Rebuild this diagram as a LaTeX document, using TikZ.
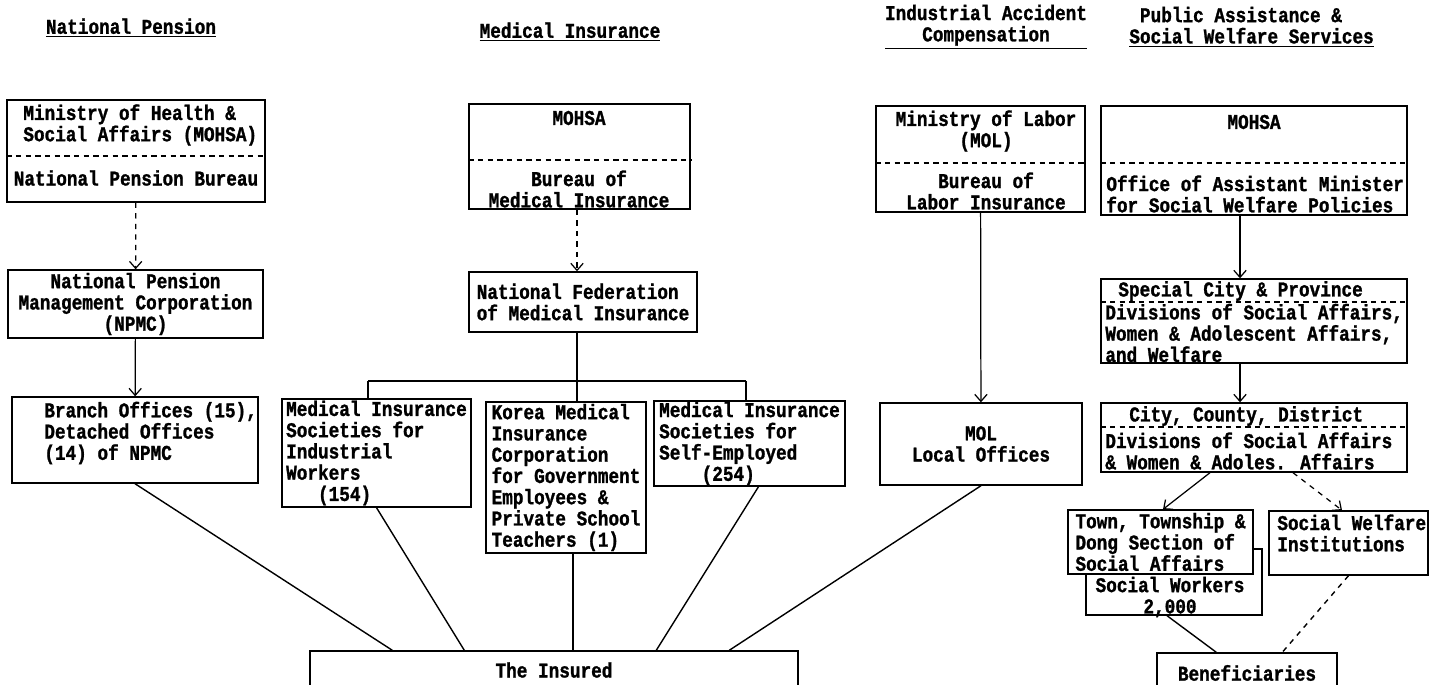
\documentclass[tikz,border=0pt]{standalone}
\usepackage{fontspec}
\newfontfamily\chartfont{Liberation Mono}[FakeStretch=0.84, BoldFeatures={FakeBold=1.2}]
\usetikzlibrary{arrows.meta}

\newlength{\headw}
\newcommand{\padunder}[2]{\settowidth{\headw}{#1}\underline{\makebox[\headw]{#2}}}

\begin{document}
\begin{tikzpicture}[
        x=0.02cm, y=-0.02cm,
        box/.style={draw, line width=0.8pt, fill=white, inner sep=0pt},
        lbl/.style={font=\chartfont\bfseries\fontsize{12}{12.1}\selectfont,
            inner sep=0pt, align=left},
        clbl/.style={lbl, align=center},
        arr/.style={-{Straight Barb[length=4pt,width=7pt]}, line width=0.7pt},
        link/.style={line width=0.8pt},
        sep/.style={dashed, dash pattern=on 3pt off 2.5pt, line width=0.6pt}
    ]
    \useasboundingbox (0,0) rectangle (1433,685);

    % column headings
    \node[clbl] (hNP) at (131,28) {\underline{National Pension}};
    \node[clbl] (hMI) at (570,32) {\underline{Medical Insurance}};
    \node[clbl] (hIA) at (986,27) {Industrial Accident\\\padunder{Industrial Accident}{Compensation}};
    \node[lbl, anchor=west] (hPA) at (1129,27) {~Public Assistance \&\\\underline{Social Welfare Services}};

    % top level
    \node[box, minimum width=5.16cm, minimum height=2.04cm] (npTop) at (136,151) {};
    \node[lbl, anchor=west] (npTopA) at (23,125) {Ministry of Health \&\\Social Affairs (MOHSA)};
    \node[clbl] (npTopB) at (136,178) {National Pension Bureau};
    \draw[sep] (npTop.west |- 0,156) -- (npTop.east |- 0,156);

    \node[box, minimum width=4.42cm, minimum height=2.1cm] (miTop) at (579.5,156.5) {};
    \node[clbl] (miTopA) at (579,118) {MOHSA};
    \node[clbl] (miTopB) at (579,189) {Bureau of\\Medical Insurance};
    \draw[sep] (miTop.west |- 0,160) -- (miTop.east |- 0,160);

    \node[box, minimum width=4.18cm, minimum height=2.12cm] (molTop) at (980.5,159) {};
    \node[clbl] (molTopA) at (986,131) {Ministry of Labor\\(MOL)};
    \node[clbl] (molTopB) at (986,191) {Bureau of\\Labor Insurance};
    \draw[sep] (molTop.west |- 0,163) -- (molTop.east |- 0,163);

    \node[box, minimum width=6.12cm, minimum height=2.18cm] (mohsaR) at (1254,160.5) {};
    \node[clbl] (mohsaRA) at (1254,122) {MOHSA};
    \node[lbl, anchor=west] (mohsaRB) at (1106,194) {Office of Assistant Minister\\for Social Welfare Policies};
    \draw[sep] (mohsaR.west |- 0,163) -- (mohsaR.east |- 0,163);

    % second level
    \node[box, clbl, minimum width=5.1cm, minimum height=1.36cm] (npmc) at (135.5,304) {National Pension\\Management Corporation\\(NPMC)};
    \node[box, lbl, minimum width=4.56cm, minimum height=1.2cm] (nfmi) at (583,302) {National Federation\\of Medical Insurance};

    \node[box, minimum width=6.12cm, minimum height=1.68cm] (spCity) at (1254,321) {};
    \node[lbl, anchor=west] (spCityA) at (1118,291) {Special City \& Province};
    \node[lbl, anchor=west] (spCityB) at (1105,333) {Divisions of Social Affairs,\\Women \& Adolescent Affairs,\\and Welfare};
    \draw[sep] (spCity.west |- 0,302) -- (spCity.east |- 0,302);

    % third level
    \node[box, minimum width=4.92cm, minimum height=1.72cm] (branch) at (135,440) {};
    \node[lbl, anchor=west] (branchT) at (44,433) {Branch Offices (15),\\Detached Offices\\(14) of NPMC};
    \node[box, lbl, minimum width=3.78cm, minimum height=2.16cm] (miInd) at (376.5,453) {Medical Insurance\\Societies for\\Industrial\\Workers\\~~~(154)};
    \node[box, lbl, minimum width=3.2cm, minimum height=3.02cm] (korea) at (566,477.5) {Korea Medical\\Insurance\\Corporation\\for Government\\Employees \&\\Private School\\Teachers (1)};
    \node[box, lbl, minimum width=3.82cm, minimum height=1.7cm] (selfEmp) at (749.5,443.5) {Medical Insurance\\Societies for\\Self-Employed\\~~~~(254)};
    \node[box, clbl, minimum width=4.04cm, minimum height=1.64cm] (molLocal) at (981,444) {MOL\\Local Offices};

    \node[box, minimum width=6.12cm, minimum height=1.38cm] (cityC) at (1254,437.5) {};
    \node[lbl, anchor=west] (cityCA) at (1129,416) {City, County, District};
    \node[lbl, anchor=west] (cityCB) at (1105,451) {Divisions of Social Affairs\\\& Women \& Adoles. Affairs};
    \draw[sep] (cityC.west |- 0,427) -- (cityC.east |- 0,427);

    % local level
    \node[box, minimum width=3.52cm, minimum height=1.32cm] (sw) at (1174,582) {};
    \node[clbl] (swT) at (1170,597) {Social Workers\\2,000};
    \node[box, lbl, minimum width=3.7cm, minimum height=1.28cm] (town) at (1160.5,542) {Town, Township \&\\Dong Section of\\Social Affairs};
    \node[box, minimum width=3.18cm, minimum height=1.28cm] (swi) at (1348.5,543) {};
    \node[lbl, anchor=west] (swiT) at (1277,533) {Social Welfare\\Institutions};

    % bottom
    \node[box, clbl, minimum width=9.76cm, minimum height=0.76cm] (insured) at (554,670) {The Insured};
    \node[box, clbl, minimum width=3.6cm, minimum height=0.8cm] (benef) at (1247,673) {Beneficiaries};

    % hierarchy
    \coordinate (brk) at (577,381);
    \coordinate (brkL) at (368,381);
    \coordinate (brkR) at (746,381);

    \draw[arr, dashed] (npTop) -- (npmc);
    \draw[arr] (npmc) -- (branch);
    \draw[arr, dashed] (miTop.south -| brk) -- (brk |- nfmi.north);
    \draw[link] (brk |- nfmi.south) -- (brk);
    \draw[link] (brkL) -- (brkR);
    \draw[link] (brkL) -- (brkL |- miInd.north);
    \draw[link] (brk) -- (brk |- korea.north);
    \draw[link] (brkR) -- (brkR |- selfEmp.north);
    \draw[arr] (molTop) -- (molLocal);
    \draw[arr] ([xshift=-0.28cm]mohsaR.south) -- ([xshift=-0.28cm]mohsaR.south |- spCity.north);
    \draw[arr] ([xshift=-0.28cm]spCity.south) -- ([xshift=-0.28cm]spCity.south |- cityC.north);
    \draw[arr] ([xshift=-0.88cm]cityC.south) -- ([xshift=0.05cm]town.north);
    \draw[arr, dashed] ([xshift=0.78cm]cityC.south) -- ([xshift=-0.13cm]swi.north);

    % to the insured
    \draw[link] (branch.south) -- ([xshift=1.66cm]insured.north west);
    \draw[link] (miInd.south) -- ([xshift=3.1cm]insured.north west);
    \draw[link] ([xshift=0.14cm]korea.south) -- ([xshift=0.14cm]korea.south |- insured.north);
    \draw[link] ([xshift=0.18cm]selfEmp.south) -- ([xshift=6.94cm]insured.north west);
    \draw[link] (molLocal.south) -- ([xshift=8.4cm]insured.north west);

    % to the beneficiaries
    \draw[link] ([xshift=-0.14cm]sw.south) -- ([xshift=1.2cm]benef.north west);
    \draw[link, dashed] (swi.south) -- ([xshift=2.52cm]benef.north west);
\end{tikzpicture}
\end{document}
